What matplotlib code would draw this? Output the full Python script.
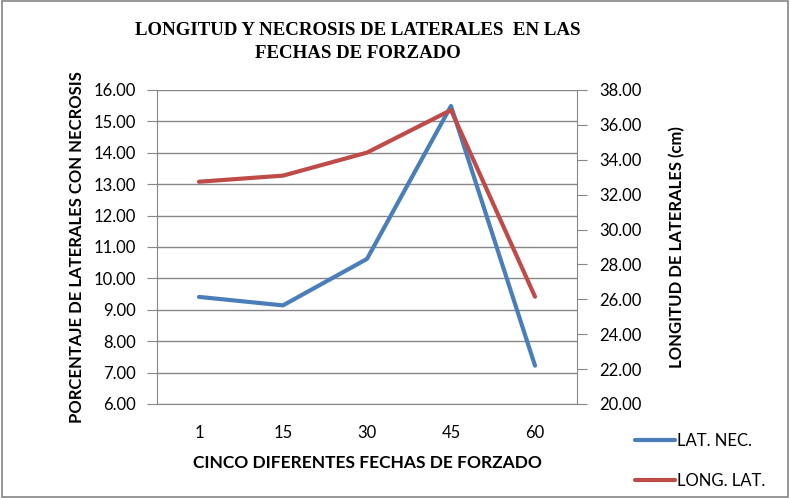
import numpy as np
import matplotlib.pyplot as plt
from matplotlib.patches import Rectangle

categories = ["1", "15", "30", "45", "60"]
lat_nec = [9.41, 9.14, 10.62, 15.49, 7.22]
long_lat = [32.74, 33.09, 34.41, 36.85, 26.15]
left_ticks = [6, 7, 8, 9, 10, 11, 12, 13, 14, 15, 16]
right_ticks = [20, 22, 24, 26, 28, 30, 32, 34, 36, 38]

blue = "#4a7ebb"
red = "#be4b48"
grid = "#878787"
tick_font = "Lato"

fig = plt.figure(figsize=(7.9, 4.98), dpi=100)
fig.patches.append(Rectangle((0.002, 0.003), 0.996, 0.994, transform=fig.transFigure,
                             fill=False, edgecolor="#858585", linewidth=1.2))

ax = fig.add_axes([0.1987, 0.1888, 0.5317, 0.6305])
x = np.arange(len(categories))
l1, = ax.plot(x, lat_nec, color=blue, linewidth=3, solid_capstyle="round")
ax.set_xlim(-0.5, len(categories) - 0.5)
ax.set_ylim(6, 16)
ax.set_yticks(left_ticks)
ax.set_yticklabels([f"{v:.2f}" for v in left_ticks], fontsize=12, fontfamily=tick_font)
ax.set_xticks(x)
ax.set_xticklabels(categories, fontsize=12, fontfamily=tick_font)
ax.tick_params(axis="x", length=0, pad=15)
ax.tick_params(axis="y", length=7, color=grid, pad=8)
ax.grid(axis="y", color=grid, linewidth=1)
ax.set_axisbelow(True)
for s in ["top", "right"]:
    ax.spines[s].set_visible(False)
ax.spines["left"].set_color(grid)
ax.spines["bottom"].set_color(grid)
ax.set_ylabel("PORCENTAJE DE LATERALES CON NECROSIS", fontsize=12, fontweight="bold",
              fontfamily=tick_font, labelpad=6)
ax.set_xlabel("CINCO DIFERENTES FECHAS DE FORZADO", fontsize=12.5, fontweight="bold",
              fontfamily=tick_font, labelpad=10)

ax2 = ax.twinx()
l2, = ax2.plot(x, long_lat, color=red, linewidth=3, solid_capstyle="round")
ax2.set_ylim(20, 38)
ax2.set_yticks(right_ticks)
ax2.set_yticklabels([f"{v:.2f}" for v in right_ticks], fontsize=12, fontfamily=tick_font)
ax2.tick_params(axis="y", length=7, color=grid, pad=9)
for s in ["top", "left", "bottom"]:
    ax2.spines[s].set_visible(False)
ax2.spines["right"].set_color(grid)
ax2.set_ylabel("LONGITUD DE LATERALES (cm)", fontsize=12, fontweight="bold",
               fontfamily=tick_font, labelpad=20)

fig.text(0.453, 0.915, "LONGITUD Y NECROSIS DE LATERALES  EN LAS\nFECHAS DE FORZADO",
         ha="center", va="center", fontsize=13.6, fontweight="bold",
         fontfamily="Liberation Serif", linespacing=1.45)

fig.legend([l1, l2], ["LAT. NEC.", "LONG. LAT."], loc="lower left",
           bbox_to_anchor=(0.785, -0.012), frameon=False,
           prop={"family": tick_font, "size": 12}, handlelength=2.4, handletextpad=0.1,
           labelspacing=1.45)

fig.savefig("out.png", dpi=100)
